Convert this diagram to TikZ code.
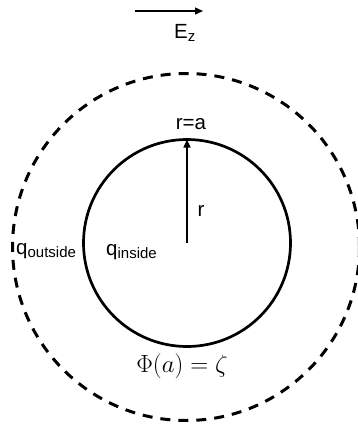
\documentclass[tikz,border=0pt]{standalone}
\usepackage{fontspec}
\setmainfont{Liberation Sans}
\usetikzlibrary{arrows.meta}
\newcommand{\mysub}[1]{\raisebox{-3.5pt}{\fontsize{15}{17}\selectfont #1}}
\begin{document}
\begin{tikzpicture}[x=1pt,y=-1pt,
  lbl/.style={inner sep=0pt,font=\fontsize{20.5}{24}\selectfont},
  thinarrow/.style={line width=1.4pt,-{Triangle[length=8pt,width=7pt]}}]
\useasboundingbox (0,0) rectangle (358,426);
\node[circle,draw,line width=2.7pt,minimum size=207pt,inner sep=0pt,outer sep=0pt] (inner) at (187,243) {};
\node[circle,draw,line width=3pt,dash pattern=on 10pt off 8pt,minimum size=347pt,inner sep=0pt,outer sep=0pt] (outer) at (186,247) {};
\coordinate (ea) at (135,11);
\coordinate (eb) at (203,11);
\draw[thinarrow] (ea) -- (eb);
\node[lbl,anchor=west] (ez) at (174,33) {E\mysub{z}};
\draw[thinarrow] (inner.center) -- (inner.north);
\node[lbl] (ra) at (191,124) {r=a};
\node[lbl] (r) at (201,211) {r};
\node[lbl,anchor=west] (qo) at (16,251) {q\mysub{outside}};
\node[lbl,anchor=west] (qi) at (106,252) {q\mysub{inside}};
\node[inner sep=0pt,font=\fontsize{25}{28}\selectfont] (phi) at (182,366) {$\Phi(a)=\zeta$};
\end{tikzpicture}
\end{document}
